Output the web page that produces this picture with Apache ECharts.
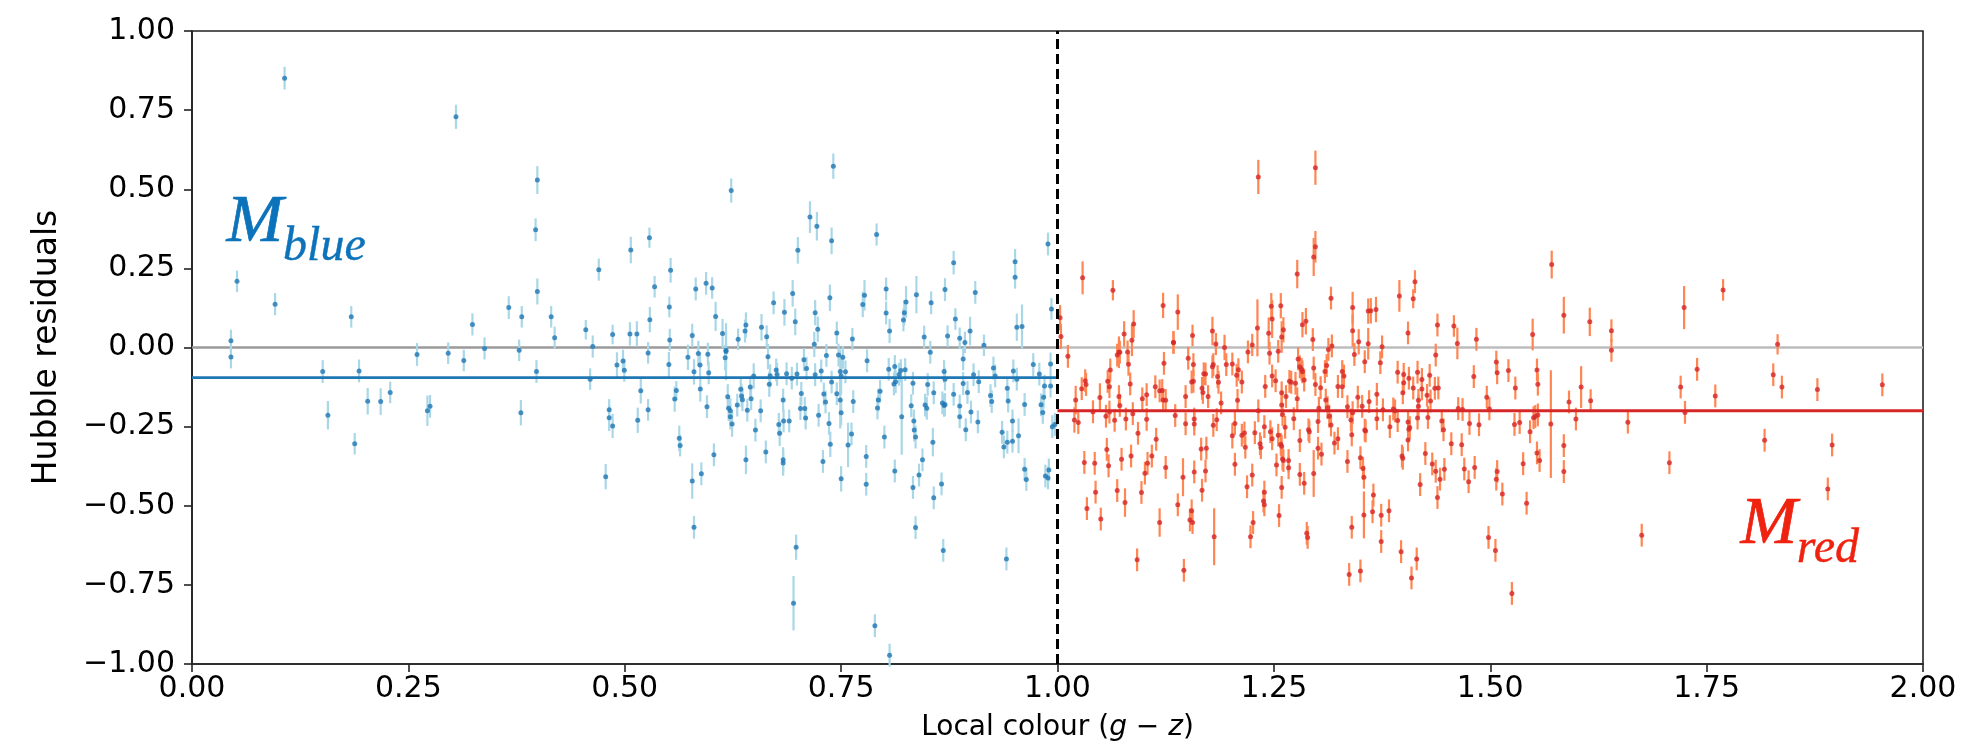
<!DOCTYPE html>
<html>
<head>
<meta charset="utf-8">
<script src="https://cdn.jsdelivr.net/npm/echarts@6/dist/echarts.min.js"></script>
<style>html,body{margin:0;padding:0;background:#fff}#c{width:1966px;height:748px}</style>
</head>
<body>
<div id="c"></div>
<script>
// [colour (g-z), Hubble residual, error]
const bluePoints = [
[0.107,0.851,0.036],[0.305,0.729,0.038],[0.399,0.529,0.044],[0.397,0.372,0.036],[0.052,0.209,0.034],
[0.096,0.137,0.035],[0.184,0.097,0.034],[0.045,0.021,0.035],[0.470,0.246,0.035],[0.507,0.308,0.042],
[0.399,0.177,0.041],[0.366,0.126,0.036],[0.381,0.097,0.034],[0.415,0.097,0.034],[0.324,0.073,0.035],
[0.419,0.031,0.035],[0.455,0.056,0.031],[0.486,0.041,0.031],[0.506,0.043,0.037],[0.338,-0.003,0.035],
[0.378,-0.009,0.034],[0.463,0.003,0.035],
[0.045,-0.030,0.036],[0.151,-0.076,0.036],[0.157,-0.214,0.045],[0.193,-0.074,0.036],[0.188,-0.304,0.034],
[0.203,-0.170,0.042],[0.218,-0.171,0.042],[0.229,-0.142,0.034],[0.260,-0.022,0.036],[0.272,-0.200,0.048],
[0.275,-0.186,0.036],[0.296,-0.018,0.034],[0.314,-0.041,0.034],[0.380,-0.206,0.040],[0.398,-0.076,0.036],
[0.460,-0.100,0.034],[0.482,-0.197,0.034],[0.482,-0.222,0.042],[0.486,-0.248,0.038],[0.478,-0.408,0.040],
[0.491,-0.055,0.040],[0.498,-0.043,0.036],[0.4995,-0.072,0.036],
[0.514,0.043,0.040],[0.5285,0.347,0.032],[0.529,0.088,0.040],[0.5345,0.192,0.034],[0.5515,0.128,0.033],
[0.552,0.024,0.035],[0.553,0.244,0.039],[0.578,0.038,0.037],[0.582,0.185,0.036],[0.594,0.203,0.036],
[0.601,0.188,0.034],[0.605,0.098,0.046],[0.613,0.044,0.046],[0.617,-0.009,0.060],[0.623,0.496,0.038],
[0.631,0.026,0.034],[0.639,0.052,0.036],[0.640,0.071,0.040],[0.658,0.064,0.042],[0.664,0.034,0.036],
[0.672,0.141,0.036],[0.6845,0.111,0.042],[0.694,0.171,0.042],[0.697,0.081,0.042],[0.700,0.307,0.042],
[0.714,0.412,0.050],[0.722,0.383,0.045],[0.720,0.110,0.040],[0.723,0.058,0.040],[0.719,0.010,0.040],
[0.737,0.157,0.042],[0.739,0.337,0.042],[0.741,0.573,0.040],[0.745,0.046,0.036],[0.763,0.027,0.035],
[0.775,0.136,0.040],[0.777,0.165,0.048],[0.791,0.357,0.035],[0.802,0.185,0.036],[0.802,0.109,0.036],
[0.806,0.052,0.038],[0.822,0.087,0.036],[0.823,0.110,0.040],[0.825,0.144,0.050],[0.837,0.167,0.059],
[0.846,0.033,0.036],[0.854,0.141,0.036],[0.870,0.183,0.036],[0.873,0.036,0.034],[0.880,0.268,0.037],
[0.882,0.090,0.034],[0.887,0.029,0.034],[0.893,0.016,0.034],[0.899,0.052,0.045],[0.905,0.174,0.036],
[0.915,0.007,0.034],[0.951,0.271,0.040],[0.951,0.222,0.036],[0.953,0.064,0.043],[0.959,0.066,0.070],
[0.989,0.327,0.036],[0.993,0.122,0.034],
[0.515,-0.230,0.040],[0.5185,-0.137,0.040],[0.527,-0.197,0.034],[0.527,-0.017,0.034],[0.551,-0.054,0.040],
[0.5577,-0.163,0.040],[0.5596,-0.136,0.030],[0.563,-0.287,0.040],[0.564,-0.310,0.034],[0.573,-0.031,0.040],
[0.580,-0.077,0.040],[0.585,-0.019,0.040],[0.587,-0.055,0.040],[0.5873,-0.131,0.040],[0.578,-0.422,0.056],
[0.580,-0.568,0.036],[0.5885,-0.399,0.036],[0.595,-0.187,0.036],[0.596,-0.021,0.036],[0.597,-0.080,0.036],
[0.603,-0.339,0.036],[0.616,-0.032,0.040],[0.617,-0.013,0.090],[0.619,-0.156,0.040],[0.620,-0.192,0.040],
[0.622,-0.200,0.040],[0.622,-0.219,0.040],[0.624,-0.242,0.040],[0.630,-0.182,0.036],[0.634,-0.132,0.036],
[0.635,-0.153,0.036],[0.636,-0.165,0.036],[0.640,-0.355,0.045],[0.6416,-0.198,0.036],[0.645,-0.125,0.036],
[0.646,-0.162,0.036],[0.649,-0.090,0.040],[0.651,-0.261,0.036],[0.657,-0.200,0.036],[0.663,-0.330,0.036],
[0.6655,-0.029,0.040],[0.667,-0.116,0.040],[0.668,-0.089,0.036],[0.675,-0.071,0.036],[0.676,-0.085,0.036],
[0.678,-0.243,0.036],[0.679,-0.271,0.040],[0.683,-0.166,0.036],[0.6835,-0.232,0.036],[0.683,-0.355,0.040],
[0.683,-0.365,0.040],[0.687,-0.083,0.036],[0.690,-0.232,0.036],[0.693,-0.097,0.036],[0.698,-0.631,0.040],
[0.695,-0.808,0.086],[0.699,-0.084,0.036],[0.703,-0.193,0.036],[0.704,-0.145,0.036],[0.707,-0.039,0.036],
[0.708,-0.193,0.036],[0.709,-0.223,0.036],[0.710,-0.066,0.036],[0.720,-0.086,0.036],[0.724,-0.214,0.036],
[0.727,-0.074,0.036],[0.729,-0.360,0.036],[0.730,-0.147,0.036],[0.732,-0.172,0.036],[0.733,-0.025,0.036],
[0.736,-0.240,0.036],[0.7375,-0.306,0.040],[0.739,-0.109,0.036],[0.745,-0.146,0.036],[0.747,-0.024,0.036],
[0.749,-0.166,0.090],[0.749,-0.076,0.070],[0.750,-0.090,0.060],[0.750,-0.206,0.040],[0.752,-0.031,0.036],
[0.750,-0.415,0.040],[0.755,-0.077,0.036],[0.758,-0.308,0.070],[0.762,-0.273,0.036],[0.764,-0.171,0.036],
[0.779,-0.344,0.036],[0.779,-0.432,0.036],[0.780,-0.042,0.036],[0.789,-0.879,0.036],[0.793,-0.166,0.036],
[0.792,-0.191,0.036],[0.795,-0.138,0.036],[0.800,-0.283,0.036],[0.805,-0.069,0.036],[0.806,-0.972,0.036],
[0.811,-0.115,0.036],[0.812,-0.060,0.036],[0.813,-0.108,0.036],[0.812,-0.390,0.036],[0.817,-0.085,0.036],
[0.819,-0.073,0.036],[0.824,-0.070,0.036],[0.820,-0.219,0.120],[0.831,-0.184,0.036],[0.833,-0.113,0.036],
[0.833,-0.442,0.036],[0.834,-0.232,0.036],[0.8345,-0.261,0.036],[0.836,-0.569,0.036],[0.836,-0.283,0.036],
[0.840,-0.403,0.036],[0.844,-0.355,0.036],[0.847,-0.182,0.036],[0.849,-0.192,0.036],[0.850,-0.117,0.036],
[0.853,-0.015,0.036],[0.856,-0.299,0.045],[0.857,-0.143,0.036],[0.857,-0.475,0.036],[0.866,-0.431,0.036],
[0.867,-0.175,0.036],[0.869,-0.183,0.036],[0.870,-0.180,0.036],[0.868,-0.641,0.036],[0.869,-0.076,0.036],
[0.870,-0.100,0.036],[0.880,-0.148,0.036],[0.887,-0.185,0.036],[0.887,-0.219,0.036],[0.891,-0.114,0.036],
[0.891,-0.036,0.036],[0.894,-0.260,0.036],[0.896,-0.142,0.036],[0.900,-0.204,0.036],[0.903,-0.086,0.036],
[0.908,-0.235,0.036],[0.909,-0.108,0.036],[0.9226,-0.152,0.036],[0.924,-0.171,0.036],[0.926,-0.065,0.036],
[0.928,-0.090,0.036],[0.936,-0.268,0.036],[0.938,-0.314,0.036],[0.941,-0.668,0.036],[0.942,-0.129,0.036],
[0.942,-0.299,0.036],[0.943,-0.169,0.036],[0.948,-0.232,0.036],[0.948,-0.296,0.036],[0.949,-0.074,0.036],
[0.953,-0.100,0.036],[0.955,-0.279,0.055],[0.962,-0.385,0.036],[0.962,-0.180,0.036],[0.964,-0.417,0.036],
[0.972,-0.054,0.036],[0.979,-0.084,0.036],[0.981,-0.181,0.036],[0.983,-0.205,0.036],[0.984,-0.157,0.036],
[0.985,-0.122,0.036],[0.986,-0.406,0.036],[0.989,-0.412,0.036],[0.990,-0.387,0.036],[0.992,-0.052,0.036],
[0.992,-0.122,0.036],[0.994,-0.250,0.036],[0.997,-0.243,0.036]
];

const redPoints = [
[1.003,0.094,0.04],[1.004,0.035,0.04],[1.029,0.220,0.052],[1.064,0.181,0.032],[1.077,0.043,0.04],
[1.086,0.023,0.05],[1.088,0.074,0.044],[1.122,0.133,0.04],[1.134,0.016,0.035],[1.139,0.112,0.056],
[1.156,0.038,0.034],[1.179,0.052,0.045],[1.183,0.011,0.035],[1.193,0.000,0.04],[1.225,0.008,0.035],
[1.231,0.062,0.09],[1.232,0.539,0.054],[1.244,0.045,0.05],[1.247,0.130,0.042],[1.248,0.090,0.06],
[1.258,0.132,0.04],[1.259,0.033,0.05],[1.261,0.056,0.04],[1.277,0.232,0.045],[1.283,0.072,0.04],
[1.287,0.083,0.042],[1.295,0.025,0.036],[1.296,0.286,0.06],[1.298,0.318,0.05],[1.298,0.568,0.054],
[1.316,0.156,0.036],[1.313,-0.006,0.036],[1.317,0.005,0.036],[1.341,0.126,0.05],[1.341,0.053,0.05],
[1.348,0.018,0.04],[1.359,0.115,0.04],[1.359,0.012,0.05],[1.362,0.116,0.04],[1.368,0.120,0.04],
[1.375,0.002,0.036],[1.395,0.163,0.05],[1.405,0.046,0.036],[1.411,0.154,0.03],[1.413,0.208,0.036],
[1.439,0.071,0.036],[1.458,0.068,0.034],[1.462,0.013,0.05],[1.484,0.026,0.036],
[1.012,-0.028,0.036],[1.0195,-0.229,0.04],[1.021,-0.166,0.045],[1.024,-0.237,0.036],[1.028,-0.130,0.036],
[1.031,-0.363,0.036],[1.032,-0.105,0.036],[1.033,-0.117,0.036],[1.034,-0.509,0.036],[1.041,-0.203,0.036],
[1.043,-0.366,0.036],[1.044,-0.457,0.036],[1.049,-0.158,0.045],[1.050,-0.542,0.036],[1.056,-0.217,0.036],
[1.057,-0.322,0.036],[1.058,-0.107,0.036],[1.059,-0.374,0.036],[1.060,-0.204,0.036],[1.060,-0.124,0.036],
[1.061,-0.071,0.036],[1.066,-0.230,0.036],[1.069,-0.452,0.036],[1.069,-0.024,0.036],[1.071,-0.015,0.05],
[1.071,-0.155,0.036],[1.072,-0.183,0.036],[1.072,-0.015,0.036],[1.074,-0.353,0.036],[1.078,-0.490,0.045],
[1.079,-0.226,0.036],[1.081,-0.014,0.036],[1.082,-0.053,0.036],[1.084,-0.115,0.036],[1.085,-0.343,0.036],
[1.087,-0.209,0.036],[1.092,-0.671,0.036],[1.093,-0.271,0.036],[1.097,-0.458,0.036],[1.098,-0.162,0.036],
[1.101,-0.397,0.036],[1.103,-0.149,0.036],[1.103,-0.227,0.036],[1.104,-0.366,0.036],[1.109,-0.343,0.036],
[1.113,-0.124,0.036],[1.114,-0.290,0.036],[1.118,-0.137,0.036],[1.118,-0.553,0.045],[1.121,-0.136,0.036],
[1.122,-0.166,0.036],[1.123,-0.050,0.036],[1.125,-0.167,0.036],[1.125,-0.379,0.036],[1.134,0.016,0.036],
[1.136,-0.215,0.036],[1.139,-0.497,0.036],[1.145,-0.410,0.06],[1.146,-0.704,0.036],[1.148,-0.241,0.036],
[1.148,-0.155,0.036],[1.151,-0.034,0.036],[1.153,-0.545,0.036],[1.155,-0.109,0.036],[1.155,-0.516,0.036],
[1.156,-0.553,0.036],[1.157,-0.054,0.036],[1.157,-0.107,0.036],[1.158,-0.226,0.036],[1.158,-0.393,0.036],
[1.158,-0.242,0.036],[1.166,-0.321,0.036],[1.167,-0.129,0.036],[1.167,-0.451,0.036],[1.168,-0.142,0.036],
[1.169,-0.083,0.036],[1.171,-0.390,0.036],[1.172,-0.318,0.036],[1.171,-0.084,0.036],[1.174,-0.155,0.036],
[1.179,-0.061,0.036],[1.180,-0.246,0.036],[1.180,-0.054,0.036],[1.181,-0.598,0.090],[1.184,-0.228,0.036],
[1.185,-0.092,0.036],[1.186,-0.110,0.036],[1.189,-0.175,0.036],[1.195,-0.054,0.036],[1.202,-0.279,0.04],
[1.202,-0.052,0.036],[1.205,-0.240,0.036],[1.205,-0.369,0.036],[1.207,-0.088,0.036],[1.208,-0.167,0.036],
[1.209,-0.070,0.036],[1.213,-0.109,0.036],[1.213,-0.277,0.036],[1.216,-0.270,0.036],[1.217,-0.315,0.036],
[1.219,-0.440,0.036],[1.220,-0.014,0.036],[1.223,-0.598,0.036],[1.225,-0.403,0.036],[1.226,-0.553,0.036],
[1.228,-0.269,0.036],[1.232,-0.200,0.036],[1.234,-0.304,0.036],[1.235,-0.316,0.036],[1.238,-0.485,0.036],
[1.239,-0.250,0.036],[1.239,-0.497,0.036],[1.239,-0.457,0.036],[1.240,-0.123,0.036],[1.245,-0.018,0.036],
[1.246,-0.266,0.036],[1.248,-0.090,0.036],[1.248,-0.288,0.036],[1.252,-0.105,0.036],[1.253,-0.371,0.036],
[1.255,-0.012,0.036],[1.255,-0.277,0.036],[1.256,-0.531,0.036],[1.258,-0.306,0.036],[1.259,-0.312,0.036],
[1.259,-0.182,0.036],[1.259,-0.143,0.036],[1.259,-0.442,0.036],[1.260,-0.352,0.036],[1.260,-0.212,0.036],
[1.261,-0.357,0.036],[1.263,-0.252,0.036],[1.264,-0.155,0.036],[1.267,-0.357,0.036],[1.267,-0.380,0.036],
[1.268,-0.107,0.036],[1.270,-0.110,0.036],[1.273,-0.225,0.036],[1.275,-0.113,0.036],[1.277,-0.162,0.036],
[1.278,-0.036,0.036],[1.280,-0.294,0.036],[1.280,-0.401,0.036],[1.280,-0.061,0.036],[1.282,-0.069,0.036],
[1.283,-0.077,0.036],[1.285,-0.103,0.036],[1.285,-0.429,0.036],[1.288,-0.587,0.036],[1.289,-0.600,0.036],
[1.290,-0.260,0.036],[1.291,-0.266,0.036],[1.296,-0.398,0.074],[1.296,-0.065,0.036],[1.298,-0.117,0.036],
[1.301,-0.234,0.036],[1.301,-0.318,0.036],[1.302,-0.192,0.036],[1.304,-0.127,0.036],[1.305,-0.337,0.036],
[1.309,-0.076,0.036],[1.310,-0.166,0.036],[1.311,-0.057,0.036],[1.312,-0.190,0.036],[1.314,-0.217,0.036],
[1.316,-0.245,0.036],[1.320,-0.302,0.036],[1.324,-0.288,0.036],[1.324,-0.123,0.036],[1.329,-0.124,0.036],
[1.329,-0.076,0.036],[1.331,-0.090,0.036],[1.335,-0.360,0.036],[1.335,-0.187,0.036],[1.337,-0.717,0.036],
[1.339,-0.229,0.036],[1.340,-0.276,0.036],[1.340,-0.568,0.036],[1.341,-0.206,0.036],[1.343,-0.022,0.036],
[1.347,-0.157,0.036],[1.350,-0.348,0.036],[1.350,-0.706,0.036],[1.352,-0.186,0.036],[1.353,-0.382,0.036],
[1.354,-0.410,0.036],[1.354,-0.529,0.074],[1.355,-0.261,0.036],[1.355,-0.045,0.036],[1.356,-0.264,0.036],
[1.360,-0.171,0.036],[1.364,-0.519,0.036],[1.365,-0.466,0.036],[1.369,-0.148,0.036],[1.369,-0.225,0.036],
[1.373,-0.048,0.036],[1.374,-0.613,0.036],[1.374,-0.530,0.036],[1.376,-0.197,0.036],[1.383,-0.516,0.036],
[1.384,-0.250,0.036],[1.388,-0.194,0.036],[1.390,-0.200,0.036],[1.393,-0.078,0.036],[1.393,-0.231,0.036],
[1.397,-0.645,0.036],[1.398,-0.343,0.036],[1.399,-0.350,0.036],[1.399,-0.143,0.036],[1.400,-0.111,0.036],
[1.400,-0.085,0.036],[1.405,-0.235,0.036],[1.405,-0.292,0.036],[1.406,-0.258,0.036],[1.406,-0.097,0.036],
[1.407,-0.253,0.036],[1.409,-0.728,0.036],[1.411,-0.128,0.036],[1.415,-0.668,0.036],[1.416,-0.223,0.036],
[1.416,-0.078,0.036],[1.417,-0.186,0.036],[1.417,-0.167,0.036],[1.419,-0.433,0.036],[1.421,-0.101,0.036],
[1.421,-0.131,0.036],[1.425,-0.335,0.036],[1.427,-0.151,0.036],[1.428,-0.221,0.036],[1.430,-0.088,0.036],
[1.431,-0.169,0.036],[1.433,-0.368,0.036],[1.436,-0.129,0.036],[1.437,-0.391,0.036],[1.437,-0.024,0.036],
[1.439,-0.474,0.036],[1.440,-0.128,0.036],[1.442,-0.416,0.036],[1.444,-0.232,0.036],[1.446,-0.260,0.036],
[1.447,-0.385,0.036],[1.455,-0.304,0.036],[1.463,-0.193,0.036],[1.467,-0.307,0.036],[1.468,-0.196,0.036],
[1.470,-0.384,0.036],[1.475,-0.424,0.036],[1.476,-0.240,0.036],[1.481,-0.092,0.036],[1.482,-0.379,0.036],
[1.487,-0.244,0.036],[1.496,-0.157,0.036],[1.498,-0.600,0.036],
[1.549,0.041,0.05],[1.571,0.262,0.044],[1.585,0.102,0.058],[1.615,0.081,0.045],[1.640,0.053,0.036],
[1.640,-0.009,0.036],[1.724,0.126,0.068],[1.769,0.182,0.034],[1.832,0.010,0.032],
[1.499,-0.194,0.036],[1.506,-0.641,0.036],[1.507,-0.046,0.036],[1.507,-0.416,0.036],[1.508,-0.080,0.036],
[1.508,-0.392,0.036],[1.514,-0.463,0.036],[1.521,-0.073,0.036],[1.525,-0.777,0.036],[1.528,-0.243,0.036],
[1.529,-0.128,0.036],[1.534,-0.237,0.036],[1.538,-0.367,0.036],[1.542,-0.492,0.036],[1.546,-0.266,0.036],
[1.550,-0.222,0.036],[1.552,-0.218,0.036],[1.554,-0.071,0.036],[1.554,-0.333,0.036],[1.555,-0.213,0.036],
[1.555,-0.116,0.036],[1.557,-0.357,0.036],[1.570,-0.242,0.170],[1.585,-0.310,0.036],[1.585,-0.392,0.036],
[1.591,-0.172,0.036],[1.599,-0.226,0.036],[1.605,-0.125,0.066],[1.616,-0.168,0.036],[1.659,-0.236,0.036],
[1.675,-0.593,0.036],[1.707,-0.364,0.036],[1.720,-0.125,0.036],[1.725,-0.205,0.036],[1.739,-0.069,0.036],
[1.760,-0.153,0.036],[1.817,-0.293,0.036],[1.827,-0.086,0.036],[1.837,-0.125,0.036],[1.878,-0.133,0.036],
[1.890,-0.447,0.036],[1.895,-0.308,0.036],[1.953,-0.118,0.036]
];

const blueMean = -0.095;
const redMean = -0.2;
const colourSplit = 1.0;
const xTicks = [0, 0.25, 0.5, 0.75, 1.0, 1.25, 1.5, 1.75, 2.0];
const yTicks = [-1, -0.75, -0.5, -0.25, 0, 0.25, 0.5, 0.75, 1];

const chart = echarts.init(document.getElementById('c'), null, {renderer: 'canvas'});
const FONT = '"DejaVu Sans", sans-serif';

function errRender(color) {
  return function (params, api) {
    const x = api.value(0), y = api.value(1), e = api.value(2);
    const a = api.coord([x, y - e]), b = api.coord([x, y + e]);
    return {type: 'line', shape: {x1: a[0], y1: a[1], x2: b[0], y2: b[1]},
            style: {stroke: color, lineWidth: 2.2}};
  };
}
const fmt = v => (v < 0 ? '\u2212' : '') + Math.abs(v).toFixed(2);

chart.setOption({
  animation: false,
  backgroundColor: '#fff',
  grid: {left: 192, right: 43, top: 31, bottom: 84, show: true, borderColor: '#222', borderWidth: 1.6, backgroundColor: 'transparent'},
  xAxis: {
    type: 'value', min: xTicks[0], max: xTicks[xTicks.length - 1], interval: 0.25,
    axisLine: {show: true, onZero: false, lineStyle: {color: '#222', width: 1.6}},
    axisTick: {show: true, inside: false, length: 8, lineStyle: {color: '#222', width: 1.6}},
    axisLabel: {formatter: fmt, fontSize: 30, color: '#000', fontFamily: FONT, margin: 10},
    splitLine: {show: false},
    name: '{n|Local colour (}{i|g}{n| \u2212 }{i|z}{n|)}',
    nameLocation: 'middle', nameGap: 50,
    nameTextStyle: {fontSize: 28, color: '#000', fontFamily: FONT,
      rich: {n: {fontSize: 28, fontFamily: FONT, color: '#000'},
             i: {fontSize: 28, fontFamily: FONT, fontStyle: 'italic', color: '#000'}}}
  },
  yAxis: {
    type: 'value', min: yTicks[0], max: yTicks[yTicks.length - 1], interval: 0.25,
    axisLine: {show: true, onZero: false, lineStyle: {color: '#222', width: 1.6}},
    axisTick: {show: true, inside: false, length: 8, lineStyle: {color: '#222', width: 1.6}},
    axisLabel: {formatter: fmt, fontSize: 30, color: '#000', fontFamily: FONT, margin: 17},
    splitLine: {show: false},
    name: 'Hubble residuals', nameLocation: 'middle', nameGap: 128,
    nameTextStyle: {fontSize: 33, color: '#000', fontFamily: FONT}
  },
  series: [
    {type: 'line', data: [[0, 0], [colourSplit, 0]], showSymbol: false, silent: true, z: 1,
     lineStyle: {color: '#9a9a9a', width: 2.5}},
    {type: 'line', data: [[colourSplit, 0], [2, 0]], showSymbol: false, silent: true, z: 1,
     lineStyle: {color: '#bcbcbc', width: 2.5}},
    {type: 'custom', renderItem: errRender('#a9d7e7'), data: bluePoints, encode: {x: 0, y: 1}, z: 2, silent: true},
    {type: 'custom', renderItem: errRender('#ff8552'), data: redPoints, encode: {x: 0, y: 1}, z: 2, silent: true},
    {type: 'line', data: [[0, blueMean], [colourSplit, blueMean]], showSymbol: false, silent: true, z: 3,
     lineStyle: {color: '#1f77b4', width: 2.8}},
    {type: 'line', data: [[colourSplit, redMean], [2, redMean]], showSymbol: false, silent: true, z: 3,
     lineStyle: {color: '#d62728', width: 3}},
    {type: 'scatter', data: bluePoints.map(p => [p[0], p[1]]), symbol: 'circle', symbolSize: 5, z: 4, silent: true,
     itemStyle: {color: '#1f77b4'}},
    {type: 'scatter', data: redPoints.map(p => [p[0], p[1]]), symbol: 'circle', symbolSize: 5, z: 4, silent: true,
     itemStyle: {color: '#d62728'}},
    {type: 'line', data: [[colourSplit, -1], [colourSplit, 1]], showSymbol: false, silent: true, z: 5,
     lineStyle: {color: '#000', width: 3, type: [10, 5]}}
  ]
});

// Annotations anchored in data coordinates (left edge, baseline)
function label(anchor, main, sub, color) {
  const p = chart.convertToPixel({gridIndex: 0}, anchor);
  const ms = 68, ss = 48;
  return [
    {type: 'text', z: 10, style: {text: main, x: p[0], y: p[1] - 0.3375 * ms, fill: color,
      stroke: color, lineWidth: 0.7,
      fontSize: ms, fontStyle: 'italic', fontFamily: '"Liberation Serif", serif', align: 'left', verticalAlign: 'middle'}},
    {type: 'text', z: 10, style: {text: sub, x: p[0] + 0.83 * ms, y: p[1] + 18 - 0.3375 * ss, fill: color,
      stroke: color, lineWidth: 0.4,
      fontSize: ss, fontStyle: 'italic', fontFamily: '"Liberation Serif", serif', align: 'left', verticalAlign: 'middle'}}
  ];
}
chart.setOption({graphic: [].concat(
  label([0.040, 0.321], 'M', 'blue', '#0c73bb'),
  label([1.789, -0.633], 'M', 'red', '#ef2210')
)});
</script>
</body>
</html>
